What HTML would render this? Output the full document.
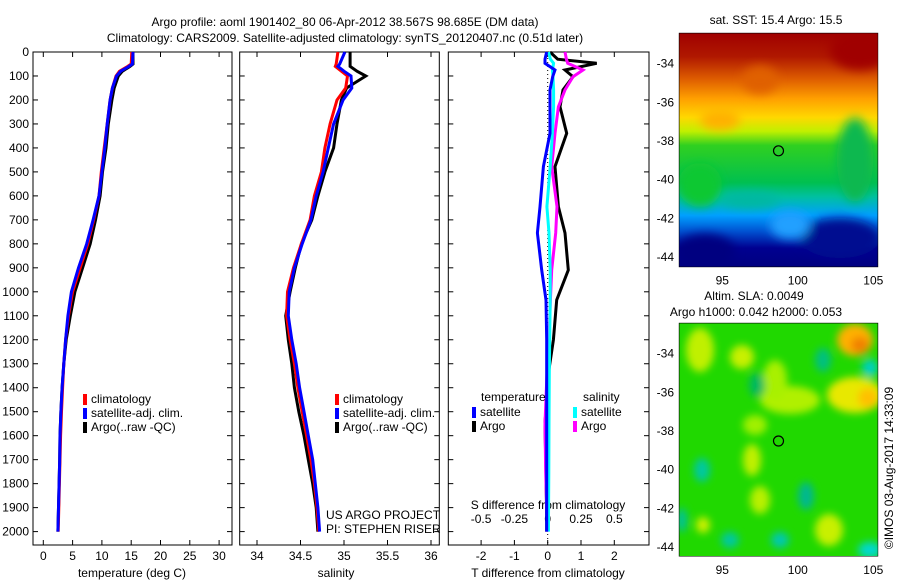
<!DOCTYPE html>
<html><head><meta charset="utf-8"><style>
html,body{margin:0;padding:0;background:#fff;}
svg{display:block;font-family:"Liberation Sans",sans-serif;font-size:12px;}
</style></head><body>
<svg id="c" width="900" height="580" viewBox="0 0 900 580">
<defs>
<filter id="bl" x="-20%" y="-20%" width="140%" height="140%"><feGaussianBlur stdDeviation="5"/></filter>
<filter id="bl2" x="-50%" y="-50%" width="200%" height="200%"><feGaussianBlur stdDeviation="4"/></filter>
<clipPath id="m1c"><rect x="679.3" y="33.3" width="198.4" height="233.4"/></clipPath>
<clipPath id="m2c"><rect x="679.3" y="323.3" width="198.4" height="232.7"/></clipPath>
<linearGradient id="sstg" x1="0" y1="0" x2="0" y2="1">
<stop offset="0" stop-color="#a00000"/><stop offset="0.1" stop-color="#b01800"/>
<stop offset="0.2" stop-color="#e06000"/><stop offset="0.28" stop-color="#ffa000"/>
<stop offset="0.36" stop-color="#ffd800"/><stop offset="0.42" stop-color="#c0f000"/>
<stop offset="0.48" stop-color="#30d020"/><stop offset="0.64" stop-color="#00c050"/>
<stop offset="0.7" stop-color="#00c0a0"/><stop offset="0.78" stop-color="#00a0ff"/>
<stop offset="0.85" stop-color="#0050d0"/><stop offset="0.92" stop-color="#000090"/>
<stop offset="1" stop-color="#000080"/></linearGradient>
</defs>
<text x="345" y="26" text-anchor="middle">Argo profile: aoml 1901402_80 06-Apr-2012 38.567S 98.685E (DM data)</text>
<text x="345" y="42" text-anchor="middle">Climatology: CARS2009. Satellite-adjusted climatology: synTS_20120407.nc (0.51d later)</text>
<g id="g"></g>
<!-- Map 1 SST -->
<g clip-path="url(#m1c)">
<rect x="679.3" y="33.3" width="198.4" height="233.4" fill="url(#sstg)"/>
<g filter="url(#bl)">
<ellipse cx="855" cy="160" rx="18" ry="42" fill="#10b850"/>
<ellipse cx="700" cy="185" rx="22" ry="22" fill="#10c830"/>
<ellipse cx="705" cy="252" rx="30" ry="18" fill="#000080"/>
<ellipse cx="840" cy="238" rx="40" ry="20" fill="#001090"/>
<ellipse cx="790" cy="225" rx="20" ry="14" fill="#20a0ff"/>
<ellipse cx="760" cy="80" rx="18" ry="14" fill="#e06000"/>
<ellipse cx="720" cy="120" rx="20" ry="10" fill="#ffb000"/>
<ellipse cx="860" cy="50" rx="30" ry="20" fill="#a00000"/>
<ellipse cx="750" cy="200" rx="30" ry="8" fill="#00b8a0"/>
</g>
<circle cx="778.5" cy="150.8" r="5" fill="none" stroke="#000" stroke-width="1.2"/>
</g>
<!-- Map 2 SLA -->
<g clip-path="url(#m2c)">
<rect x="679.3" y="323.3" width="198.4" height="232.7" fill="#20d800"/>
<g filter="url(#bl2)">
<ellipse cx="700" cy="350" rx="14" ry="22" fill="#c0f000"/>
<ellipse cx="742" cy="357" rx="12" ry="12" fill="#c8f000"/>
<ellipse cx="790" cy="400" rx="30" ry="14" fill="#b0f000"/>
<ellipse cx="775" cy="380" rx="12" ry="20" fill="#a8f000"/>
<ellipse cx="855" cy="340" rx="18" ry="16" fill="#ffb000"/>
<ellipse cx="860" cy="345" rx="9" ry="8" fill="#f08000"/>
<ellipse cx="855" cy="395" rx="28" ry="18" fill="#e8e800"/>
<ellipse cx="868" cy="398" rx="10" ry="10" fill="#ffc000"/>
<ellipse cx="752" cy="460" rx="9" ry="16" fill="#c0f000"/>
<ellipse cx="760" cy="500" rx="10" ry="14" fill="#b8f000"/>
<ellipse cx="829" cy="530" rx="14" ry="16" fill="#c8f000"/>
<ellipse cx="703" cy="525" rx="7" ry="8" fill="#d0f000"/>
<ellipse cx="755" cy="425" rx="12" ry="10" fill="#a0f000"/>
<ellipse cx="702" cy="470" rx="8" ry="12" fill="#00c8a0"/>
<ellipse cx="806" cy="496" rx="8" ry="14" fill="#00b890"/>
<ellipse cx="730" cy="540" rx="9" ry="8" fill="#00c8a0"/>
<ellipse cx="780" cy="540" rx="9" ry="8" fill="#00c8b0"/>
<ellipse cx="823" cy="360" rx="8" ry="12" fill="#00c080"/>
<ellipse cx="870" cy="368" rx="8" ry="9" fill="#00d0c0"/>
<ellipse cx="870" cy="550" rx="12" ry="8" fill="#00d8d0"/>
<ellipse cx="757" cy="385" rx="8" ry="12" fill="#00b860"/>
<ellipse cx="682" cy="520" rx="5" ry="12" fill="#00c0a0"/>
</g>
<circle cx="778.5" cy="441" r="5" fill="none" stroke="#000" stroke-width="1.2"/>
</g>
<text x="776" y="24" text-anchor="middle">sat. SST: 15.4 Argo: 15.5</text>
<text x="754" y="300" text-anchor="middle">Altim. SLA: 0.0049</text>
<text x="756" y="316" text-anchor="middle">Argo h1000: 0.042 h2000: 0.053</text>
<text transform="translate(893,468) rotate(-90)" text-anchor="middle">©IMOS 03-Aug-2017 14:33:09</text>
<text x="326" y="519">US ARGO PROJECT</text>
<text x="326" y="533">PI: STEPHEN RISER</text>
</svg>
<script>
// ---- data ----
const depthLevels = [0,50,60,80,100,150,200,300,400,500,600,700,800,900,1000,1100,1200,1300,1400,1500,1600,1700,1800,1900,2000];
const tempArgo = [15.3,15.3,14.8,13.5,12.8,12.1,11.7,11.1,10.7,10.1,9.7,8.9,8.0,6.7,5.4,4.6,3.9,3.5,3.2,3.0,2.85,2.8,2.7,2.6,2.5];
const tempClim = [15.1,15.0,14.4,13.0,12.4,11.8,11.4,10.9,10.4,9.9,9.5,8.6,7.6,6.3,5.0,4.3,3.8,3.5,3.3,3.1,2.95,2.85,2.75,2.65,2.55];
const tempSat  = [15.3,15.2,14.6,13.2,12.5,11.8,11.4,10.9,10.5,10.0,9.5,8.5,7.4,6.0,4.8,4.2,3.8,3.5,3.2,3.0,2.85,2.8,2.7,2.6,2.5];
const salArgo = [35.07,35.07,35.07,35.15,35.25,35.03,34.97,34.92,34.88,34.78,34.70,34.63,34.51,34.44,34.38,34.33,34.36,34.40,34.43,34.48,34.54,34.59,34.64,34.68,34.70];
const salClim = [34.93,34.91,34.90,34.97,35.04,35.02,34.92,34.84,34.78,34.74,34.66,34.61,34.51,34.42,34.35,34.34,34.38,34.43,34.47,34.52,34.57,34.62,34.66,34.69,34.71];
const salSat  = [35.01,34.95,34.93,35.00,35.08,35.09,34.99,34.88,34.82,34.76,34.68,34.62,34.52,34.43,34.37,34.36,34.40,34.45,34.49,34.54,34.59,34.64,34.67,34.70,34.72];
const diffDepths = [0,30,47,75,103,158,228,339,478,645,755,909,1034,1200,1340,1550,1757,1940,2000];
const dTArgo = [0.07,0.3,1.47,0.52,0.76,0.46,0.37,0.57,0.22,0.32,0.52,0.62,0.27,0.17,0.02,-0.08,-0.05,-0.03,-0.03];
const dTSat  = [-0.03,-0.08,-0.08,0.22,0.15,0.07,0.07,0.07,-0.13,-0.23,-0.31,-0.18,-0.05,-0.03,-0.03,-0.03,-0.03,-0.03,-0.03];
const dSArgo = [0.13,0.14,0.15,0.265,0.19,0.13,0.08,0.055,0.03,0.07,0.06,0.03,0.02,0.01,-0.005,-0.02,-0.015,-0.005,-0.005];
const dSSat  = [0.006,0.02,0.044,0.035,0.04,0.044,0.044,0.035,0.019,-0.006,0.01,0.019,0.019,0.015,0.012,0.01,0.008,0.006,0.006];
const depthTicks = [0,100,200,300,400,500,600,700,800,900,1000,1100,1200,1300,1400,1500,1600,1700,1800,1900,2000];
const tempTicks = [0,5,10,15,20,25,30];
const salTicks = [34,34.5,35,35.5,36];
const salTickLabels = ["34","34.5","35","35.5","36"];
const dTTicks = [-2,-1,0,1,2];
const dSTicks = [-0.5,-0.25,0,0.25,0.5];
const lonTicks = [95,100,105];
const latTicks = [-34,-36,-38,-40,-42,-44];

// ---- scales ----
const yD = d => 52 + d*0.2398;
const xT = t => 43.3 + t*5.86;
const xS = s => 257 + (s-34)*87;
const xDT = t => 547.7 + t*33.3;
const xDS = s => 547.7 + s*133.3;
const xLon = l => 722.3 + (l-95)*15.1;
const yLat1 = l => 62.7 + (-34-l)*19.33;
const yLat2 = l => 352.7 + (-34-l)*19.33;

const NS="http://www.w3.org/2000/svg";
const G=document.getElementById('g');
function mk(tag,attrs,parent){const e=document.createElementNS(NS,tag);for(const k in attrs)e.setAttribute(k,attrs[k]);(parent||G).appendChild(e);return e;}
function txt(x,y,s,anchor){const e=mk('text',{x:x,y:y,'text-anchor':anchor||'middle'});e.textContent=s;return e;}

const panels=[[33,52,232,545],[239.7,52,439.3,545],[448.3,52,649,545]];
panels.forEach((p,i)=>{
  const r=mk('rect',{x:p[0],y:p[1],width:p[2]-p[0],height:p[3]-p[1],fill:'none',stroke:'#000','stroke-width':1});
  
  
  depthTicks.forEach(d=>{
    mk('line',{x1:p[0],x2:p[0]+5,y1:yD(d),y2:yD(d),stroke:'#000'});
    mk('line',{x1:p[2],x2:p[2]-5,y1:yD(d),y2:yD(d),stroke:'#000'});
  });
});
depthTicks.forEach(d=>{const t=txt(29,yD(d)+4,String(d),'end');
  
  });
tempTicks.forEach(t=>{mk('line',{x1:xT(t),x2:xT(t),y1:545,y2:540,stroke:'#000'});mk('line',{x1:xT(t),x2:xT(t),y1:52,y2:57,stroke:'#000'});
  const e=txt(xT(t),560,String(t));
  
  });
salTicks.forEach((s,i)=>{mk('line',{x1:xS(s),x2:xS(s),y1:545,y2:540,stroke:'#000'});mk('line',{x1:xS(s),x2:xS(s),y1:52,y2:57,stroke:'#000'});
  const e=txt(xS(s),560,salTickLabels[i]);
  
  });
dTTicks.forEach(t=>{mk('line',{x1:xDT(t),x2:xDT(t),y1:545,y2:540,stroke:'#000'});mk('line',{x1:xDT(t),x2:xDT(t),y1:52,y2:57,stroke:'#000'});
  const e=txt(xDT(t),560,String(t));
  
  });
dSTicks.forEach(s=>{const e=txt(xDS(s),523,String(s));
  
  });
let e;
e=txt(132,577,'temperature (deg C)');
e=txt(336,577,'salinity');
e=txt(548,577,'T difference from climatology');
e=txt(548,509,'S difference from climatology');

// zero line
e=mk('line',{x1:xDT(0),x2:xDT(0),y1:58,y2:545,stroke:'#000','stroke-dasharray':'1,3'});



function series(xs,ds,sx,color,name){
  const pts=xs.map((v,i)=>sx(v).toFixed(1)+','+yD(ds[i]).toFixed(1)).join(' ');
  const pl=mk('polyline',{points:pts,fill:'none',stroke:color,'stroke-width':3,'stroke-linejoin':'miter'});
  
  
}
series(tempArgo,depthLevels,xT,'#000','temp-argo-line');
series(tempClim,depthLevels,xT,'#f00','temp-clim-line');
series(tempSat,depthLevels,xT,'#00f','temp-sat-line');
series(salArgo,depthLevels,xS,'#000','sal-argo-line');
series(salClim,depthLevels,xS,'#f00','sal-clim-line');
series(salSat,depthLevels,xS,'#00f','sal-sat-line');
series(dTArgo,diffDepths,xDT,'#000','t-diff-argo-line');
series(dSArgo,diffDepths,xDS,'#f0f','s-diff-argo-line');
series(dSSat,diffDepths,xDS,'#0ff','s-diff-sat-line');
series(dTSat,diffDepths,xDT,'#00f','t-diff-sat-line');

function legendEntry(x,y,color,label,name){
  const r=mk('rect',{x:x,y:y-9,width:4,height:11,fill:color});
  
  
  const t=txt(x+8,y,label,'start');
  
  
}
[[0,'#f00','climatology'],[0,'#00f','satellite-adj. clim.'],[0,'#000','Argo(..raw -QC)']].forEach((a,i)=>{
  legendEntry(83,403+i*14,a[1],a[2],'legend-temp-'+i);
  legendEntry(335,403+i*14,a[1],a[2],'legend-sal-'+i);
});
e=txt(481,401,'temperature','start');
e=txt(583,401,'salinity','start');
legendEntry(472,416,'#00f','satellite','legend-diff-t-sat');
legendEntry(472,430,'#000','Argo','legend-diff-t-argo');
legendEntry(573,416,'#0ff','satellite','legend-diff-s-sat');
legendEntry(573,430,'#f0f','Argo','legend-diff-s-argo');

// map frames
[[33.3,266.7,yLat1],[323.3,556,yLat2]].forEach((m,i)=>{
  const r=mk('rect',{x:679.3,y:m[0],width:198.4,height:m[1]-m[0],fill:'none',stroke:'#000'});
  
  
  lonTicks.forEach(l=>{mk('line',{x1:xLon(l),x2:xLon(l),y1:m[1],y2:m[1]-4,stroke:'#000'});mk('line',{x1:xLon(l),x2:xLon(l),y1:m[0],y2:m[0]+4,stroke:'#000'});
    const t=txt(xLon(l),m[1]+18,String(l));
    
    });
  latTicks.forEach(l=>{const y=m[2](l);mk('line',{x1:679.3,x2:683.3,y1:y,y2:y,stroke:'#000'});mk('line',{x1:877.7,x2:873.7,y1:y,y2:y,stroke:'#000'});
    const t=txt(674,y+5,String(l),'end');
    
    });
});
</script>
</body></html>
